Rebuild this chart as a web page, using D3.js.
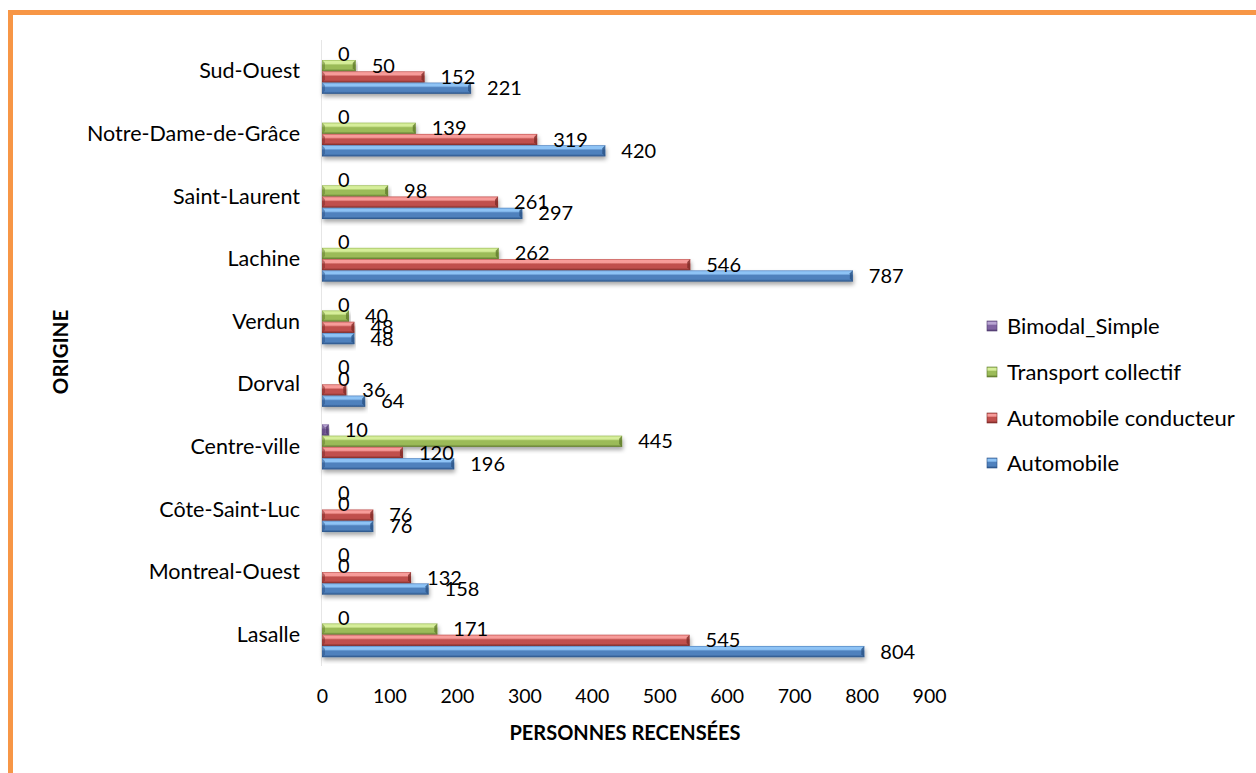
<!DOCTYPE html>
<html>
<head>
<meta charset="utf-8">
<script src="https://cdn.jsdelivr.net/npm/d3@7"></script>
<style>
  html, body { margin: 0; padding: 0; background: #fff; }
  svg { display: block; font-family: Lato, "Noto Sans", sans-serif; }
</style>
</head>
<body>
<svg id="chart" width="1256" height="773"></svg>
<script>
// ---- Data ----
const categories = ["Sud-Ouest", "Notre-Dame-de-Grâce", "Saint-Laurent", "Lachine", "Verdun",
                    "Dorval", "Centre-ville", "Côte-Saint-Luc", "Montreal-Ouest", "Lasalle"];
const seriesNames = ["Bimodal_Simple", "Transport collectif", "Automobile conducteur", "Automobile"];
const bimodal     = [0, 0, 0, 0, 0, 0, 10, 0, 0, 0];
const transport   = [50, 139, 98, 262, 40, 0, 445, 0, 0, 171];
const autoCond    = [152, 319, 261, 546, 48, 36, 120, 76, 132, 545];
const automobile  = [221, 420, 297, 787, 48, 64, 196, 76, 158, 804];
const xTicks = [0, 100, 200, 300, 400, 500, 600, 700, 800, 900];
const seriesValues = [bimodal, transport, autoCond, automobile];
const colors = ["#8064A2", "#9BBB59", "#C0504D", "#4F81BD"];
const lights = ["#B9A5D3", "#D6EE9A", "#F79C9A", "#8EC3F5"];
const darks  = ["#4F3A6E", "#5F7A2C", "#7E2A27", "#2B5285"];

const svg = d3.select("#chart");
const defs = svg.append("defs");

// drop shadow
const f = defs.append("filter").attr("id", "shadow").attr("x", "-5%").attr("y", "-40%").attr("width", "110%").attr("height", "200%");
f.append("feDropShadow").attr("dx", 1).attr("dy", 3).attr("stdDeviation", 2.2).attr("flood-color", "#000").attr("flood-opacity", 0.35);

seriesNames.forEach((s, i) => {
  const g = defs.append("linearGradient").attr("id", "grad" + i).attr("x1", 0).attr("y1", 0).attr("x2", 0).attr("y2", 1);
  g.append("stop").attr("offset", "0%").attr("stop-color", colors[i]);
  g.append("stop").attr("offset", "12%").attr("stop-color", lights[i]);
  g.append("stop").attr("offset", "30%").attr("stop-color", lights[i]);
  g.append("stop").attr("offset", "45%").attr("stop-color", colors[i]);
  g.append("stop").attr("offset", "78%").attr("stop-color", colors[i]);
  g.append("stop").attr("offset", "100%").attr("stop-color", darks[i]);
});

// Orange frame
svg.append("rect").attr("x", 10.5).attr("y", 12.5).attr("width", 1300).attr("height", 800)
  .attr("fill", "none").attr("stroke", "#F79646").attr("stroke-width", 5);

const plot = { left: 322, top: 40, bottom: 666 };

const x = d3.scaleLinear().domain([0, 900]).range([322, 322 + 900 * 0.6745]);
const y = d3.scaleBand().domain(categories).range([plot.top, plot.bottom]).paddingInner(0.28).paddingOuter(0.14);
const yi = d3.scaleBand().domain(seriesNames).range([0, y.bandwidth()]);

// vertical axis line
svg.append("line").attr("x1", 321.5).attr("x2", 321.5).attr("y1", plot.top).attr("y2", plot.bottom)
  .attr("stroke", "#E6E6E6").attr("stroke-width", 1);

// bars
const groups = svg.append("g").selectAll("g").data(categories).join("g")
  .attr("transform", d => `translate(0,${y(d)})`);

seriesNames.forEach((s, si) => {
  groups.each(function(cat, ci) {
    const v = seriesValues[si][ci];
    const g = d3.select(this);
    const w = x(v) - x(0);
    if (w > 0) {
      const bx = x(0), by = yi(s), bh = yi.bandwidth();
      g.append("rect").attr("x", bx).attr("y", by).attr("width", w).attr("height", bh)
        .attr("fill", "url(#grad" + si + ")").attr("filter", "url(#shadow)");
      const bev = Math.min(3, w / 2);
      g.append("path")
        .attr("d", `M${bx + w - bev},${by + bev} L${bx + w},${by} L${bx + w},${by + bh} L${bx + w - bev},${by + bh - bev} Z`)
        .attr("fill", darks[si]).attr("opacity", 0.8);
      g.append("path")
        .attr("d", `M${bx},${by} L${bx + bev},${by + bev} L${bx + bev},${by + bh - bev} L${bx},${by + bh} Z`)
        .attr("fill", darks[si]).attr("opacity", 0.5);
    }
  });
});

// data labels
seriesNames.forEach((s, si) => {
  groups.append("text")
    .attr("x", (d, ci) => x(seriesValues[si][ci]) + 16)
    .attr("y", yi(s) + yi.bandwidth() / 2)
    .attr("dy", "0.35em")
    .attr("font-size", 20)
    .attr("fill", "#000")
    .text((d, ci) => seriesValues[si][ci]);
});

// category labels
svg.append("g").selectAll("text").data(categories).join("text")
  .attr("x", 300)
  .attr("y", d => y(d) + y.bandwidth() / 2)
  .attr("dy", "0.33em")
  .attr("text-anchor", "end")
  .attr("font-size", 21.5)
  .attr("fill", "#000")
  .text(d => d);

// x axis tick labels
const xAxis = d3.axisBottom(x).tickValues(xTicks).tickSize(0).tickPadding(0);
const ax = svg.append("g").attr("transform", `translate(0,${plot.bottom + 23})`).call(xAxis);
ax.select(".domain").remove();
ax.selectAll("text").attr("font-size", 19.5).attr("font-family", "Lato, 'Noto Sans', sans-serif").attr("fill", "#000");

// axis titles
svg.append("text").attr("x", 625).attr("y", 740).attr("text-anchor", "middle")
  .attr("font-size", 20).attr("font-weight", "bold").text("PERSONNES RECENSÉES");
svg.append("text").attr("transform", "translate(68,352) rotate(-90)").attr("text-anchor", "middle")
  .attr("font-size", 20.5).attr("font-weight", "bold").text("ORIGINE");

// legend
const legY = [326, 372, 418, 463];
const leg = svg.append("g").selectAll("g").data(seriesNames).join("g")
  .attr("transform", (d, i) => `translate(987,${legY[i]})`);
leg.append("rect").attr("x", 0).attr("y", -5).attr("width", 10).attr("height", 10)
  .attr("fill", (d, i) => "url(#grad" + i + ")").attr("stroke", (d, i) => darks[i]).attr("stroke-width", 0.6);
leg.append("text").attr("x", 20).attr("y", 0).attr("dy", "0.35em").attr("font-size", 22).text(d => d);
</script>
</body>
</html>
